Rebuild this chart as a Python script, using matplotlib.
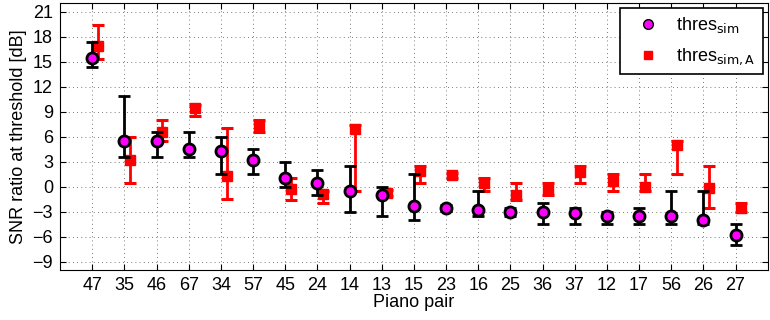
import numpy as np
import matplotlib
matplotlib.use("Agg")
import matplotlib.pyplot as plt
from matplotlib.lines import Line2D

plt.rcParams['font.family'] = ['Liberation Sans', 'DejaVu Sans']

pairs = ['47', '35', '46', '67', '34', '57', '45', '24', '14', '13', '15',
         '23', '16', '25', '36', '37', '12', '17', '56', '26', '27']

# thres_sim: value, lower end, upper end of error bar
sim_val = [15.4, 5.5, 5.5, 4.5, 4.3, 3.2, 1.0, 0.5, -0.5, -1.0, -2.3,
           -2.5, -2.8, -3.0, -3.0, -3.2, -3.5, -3.5, -3.5, -4.0, -5.8]
sim_lo = [14.4, 3.5, 3.5, 3.5, 1.5, 1.5, 0.0, -1.0, -3.0, -3.5, -4.0,
          -2.9, -3.5, -3.5, -4.5, -4.5, -4.5, -4.5, -4.5, -4.5, -7.0]
sim_hi = [17.4, 10.9, 6.5, 6.5, 6.0, 4.5, 3.0, 2.0, 2.5, 0.0, 1.5,
          -2.2, -0.5, -2.5, -2.0, -2.5, -3.0, -2.5, -0.5, -0.5, -4.5]

# thres_sim,A
simA_val = [16.9, 3.2, 6.5, 9.4, 1.3, 7.4, -0.3, -0.9, 6.9, -0.8, 1.9,
            1.4, 0.5, -1.0, -0.4, 1.8, 0.7, 0.0, 5.0, -0.2, -2.5]
simA_lo = [15.35, 0.5, 5.5, 8.45, -1.5, 6.5, -1.6, -2.0, -0.5, -1.1, 0.5,
           1.0, -0.5, -1.6, -1.0, 0.5, -0.5, -0.5, 1.5, -2.5, -3.0]
simA_hi = [19.4, 5.95, 8.0, 9.85, 7.0, 8.0, 1.0, -0.5, 7.4, -0.4, 2.5,
           1.7, 1.0, 0.5, 0.5, 2.5, 1.5, 1.5, 5.5, 2.5, -2.0]

x = np.arange(1, len(pairs) + 1)
sim_val = np.array(sim_val)
simA_val = np.array(simA_val)
sim_err = [sim_val - np.array(sim_lo), np.array(sim_hi) - sim_val]
simA_err = [simA_val - np.array(simA_lo), np.array(simA_hi) - simA_val]

fig = plt.figure(figsize=(7.7, 3.2), dpi=100)
ax = fig.add_axes([0.078, 0.156, 0.919, 0.834])

ax.errorbar(x + 0.18, simA_val, yerr=simA_err, fmt='s', color='red',
            ecolor='red', elinewidth=2, capsize=4.5, capthick=2.2,
            markersize=7, markeredgecolor='red', markerfacecolor='red',
            zorder=3)
ax.errorbar(x, sim_val, yerr=sim_err, fmt='o', color='black',
            ecolor='black', elinewidth=2, capsize=4.5, capthick=2.2,
            markersize=8, markeredgewidth=2, markeredgecolor='black',
            markerfacecolor='magenta', zorder=4)

ax.set_xlim(0, 22)
ax.set_ylim(-10, 22)
ax.set_xticks(x)
ax.set_xticklabels(pairs)
ax.set_yticks(np.arange(-9, 22, 3))
ax.tick_params(direction='in', top=True, right=True, labelsize=13,
               length=4, pad=5)
ax.grid(True, linestyle=(0, (1, 4)), color='black', linewidth=0.6, alpha=0.7)
ax.set_axisbelow(True)
ax.set_xlabel('Piano pair', fontsize=13, labelpad=0)
ax.set_ylabel('SNR ratio at threshold [dB]', fontsize=13, labelpad=4)

handles = [
    Line2D([], [], linestyle='none', marker='o', markersize=7,
           markerfacecolor='magenta', markeredgecolor='black'),
    Line2D([], [], linestyle='none', marker='s', markersize=6,
           markerfacecolor='red', markeredgecolor='red'),
]
labels = [r'thres$_{\mathrm{sim}}$', r'thres$_{\mathrm{sim,A}}$']
leg = ax.legend(handles, labels, loc='upper right', fontsize=13,
                frameon=True, fancybox=False, handlelength=2.2,
                handletextpad=0.5, labelspacing=0.65, borderpad=0.4,
                borderaxespad=0.25)
leg.get_frame().set_edgecolor('black')
leg.get_frame().set_linewidth(1.2)
leg.get_frame().set_alpha(1.0)

fig.savefig('out.png', dpi=100)
